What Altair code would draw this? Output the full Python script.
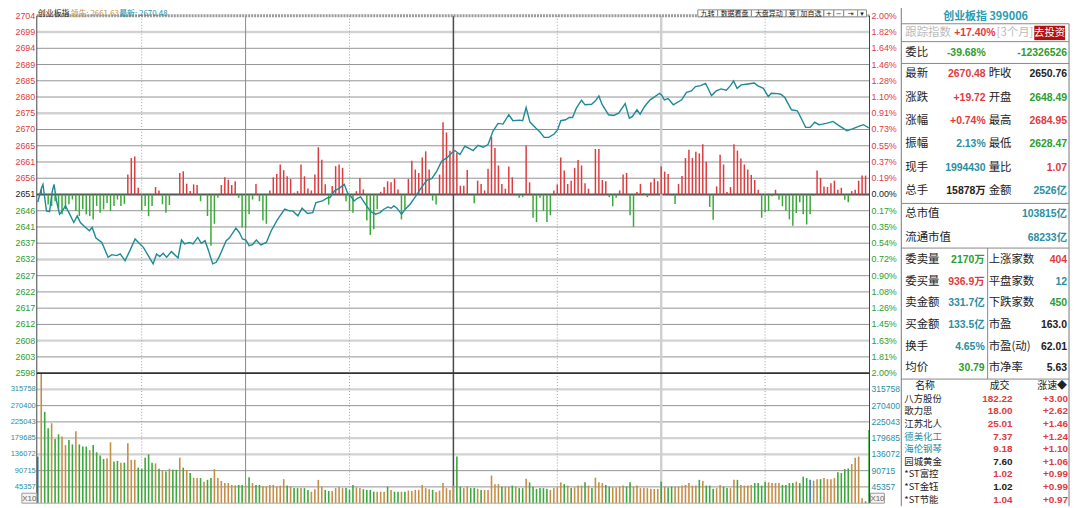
import pandas as pd
import altair as alt

OFF = 8  # page margin: screenshot pixel -> chart pixel

# ---------------- values ----------------
prev_close = 2650.76
price_lo, price_hi = 2597.74, 2703.78
price_labels = ["2704", "2699", "2694", "2689", "2685", "2680", "2675", "2670", "2665", "2661", "2656",
                "2651", "2646", "2641", "2637", "2632", "2627", "2622", "2617", "2612", "2608", "2603", "2598"]
pct_labels = ["2.00%", "1.82%", "1.64%", "1.46%", "1.28%", "1.10%", "0.91%", "0.73%", "0.55%", "0.37%", "0.19%",
              "0.00%", "0.17%", "0.35%", "0.54%", "0.72%", "0.90%", "1.08%", "1.26%", "1.45%", "1.63%", "1.81%", "2.00%"]
vol_top = 362.858  # thousand
vol_labels = ["45357", "90715", "136072", "179685", "225043", "270400", "315758"]

# minute line (minute index, price)
price_min = [0.0, 1.1, 1.5, 2.5, 3.4, 4.2, 4.7, 5.4, 6.3, 7.1, 8.0, 9.0, 10.4, 11.4, 12.3, 13.8, 14.9, 15.7,
             16.8, 18.5, 20.3, 21.4, 22.8, 23.8, 25.2, 26.6, 28.1, 29.5, 30.5, 31.9, 33.3, 34.3, 35.2, 36.2,
             37.2, 38.6, 39.5, 40.5, 41.5, 42.4, 43.8, 44.8, 46.2, 47.2, 48.3, 49.3, 50.5, 51.5, 52.4, 54.4,
             55.3, 57.2, 58.2, 59.1, 60.1, 61.0, 62.0, 63.1, 64.4, 66.0, 67.4, 69.3, 71.3, 72.7, 73.6, 75.1,
             76.3, 77.9, 79.4, 80.3, 82.2, 83.7, 84.4, 85.6, 87.0, 88.5, 89.4, 90.3, 91.3, 92.3, 93.2, 94.6,
             96.1, 97.5, 98.8, 99.9, 101.1, 102.0, 102.8, 103.7, 105.0, 106.1, 107.5, 109.0, 110.4, 112.3,
             113.8, 115.2, 116.6, 118.1, 119.5, 120.4, 121.9, 123.3, 124.7, 125.7, 127.1, 128.6, 130.0, 131.4,
             132.9, 134.3, 136.0, 137.2, 139.1, 140.0, 141.0, 142.1, 143.8, 145.0, 146.2, 147.5, 149.1, 150.1,
             151.0, 152.4, 153.4, 154.4, 155.5, 157.0, 158.0, 159.9, 161.0, 162.0, 162.9, 164.8, 166.3, 167.7,
             169.6, 170.8, 171.7, 173.0, 173.9, 175.2, 176.8, 178.2, 179.5, 180.1, 180.9, 182.0, 183.5, 185.9,
             187.3, 188.7, 189.9, 191.4, 192.8, 193.5, 194.5, 195.9, 197.3, 198.8, 200.0, 200.9, 201.9, 203.1,
             205.0, 206.9, 207.8, 209.5, 210.9, 211.8, 213.6, 214.5, 215.7, 217.6, 219.3, 220.3, 221.7, 223.0,
             224.3, 225.5, 226.5, 227.9, 229.6, 231.2, 232.7, 233.6, 235.4, 237.0, 238.4, 240.0]
price_val = [2648.49, 2652.77, 2653.77, 2645.89, 2645.69, 2651.79, 2653.77, 2648.84, 2644.92, 2645.89, 2647.37,
             2645.39, 2642.44, 2644.42, 2642.44, 2640.97, 2639.99, 2640.97, 2637.84, 2636.54, 2632.12, 2632.91,
             2632.62, 2633.12, 2631.14, 2634.09, 2637.54, 2636.07, 2635.07, 2632.62, 2630.17, 2633.12, 2632.32,
             2633.30, 2632.12, 2633.80, 2632.91, 2631.94, 2637.25, 2636.07, 2636.54, 2636.07, 2638.02, 2636.25,
             2637.04, 2634.09, 2630.17, 2630.64, 2632.32, 2637.04, 2637.84, 2640.79, 2639.49, 2637.54, 2637.25,
             2635.57, 2635.86, 2637.25, 2635.77, 2636.54, 2639.99, 2643.44, 2646.39, 2645.89, 2645.89, 2644.42,
             2646.69, 2645.10, 2645.39, 2648.34, 2648.84, 2649.82, 2649.82, 2651.79, 2652.59, 2653.77, 2651.29,
             2650.32, 2648.84, 2649.64, 2650.02, 2647.87, 2645.69, 2644.92, 2645.39, 2646.39, 2647.07, 2646.69,
             2647.37, 2646.69, 2644.92, 2646.39, 2647.87, 2650.02, 2652.29, 2654.95, 2655.54, 2657.69, 2660.64,
             2661.62, 2663.09, 2663.80, 2662.62, 2665.07, 2664.39, 2663.80, 2665.36, 2664.77, 2665.57, 2669.49,
             2671.85, 2671.65, 2674.42, 2672.65, 2672.83, 2672.65, 2676.57, 2672.24, 2670.47, 2669.29, 2667.72,
             2667.72, 2668.70, 2669.99, 2672.65, 2672.94, 2673.62, 2673.62, 2676.37, 2678.73, 2677.37, 2677.55,
             2678.55, 2680.02, 2677.55, 2674.42, 2674.21, 2674.89, 2677.75, 2673.42, 2673.92, 2675.89, 2674.60,
             2676.87, 2678.84, 2679.82, 2680.79, 2680.32, 2678.84, 2679.23, 2677.37, 2678.84, 2681.09, 2681.50,
             2682.77, 2683.06, 2683.74, 2682.27, 2680.11, 2681.50, 2682.09, 2681.68, 2683.06, 2684.45, 2682.27,
             2683.27, 2683.56, 2683.86, 2683.06, 2682.27, 2679.82, 2680.79, 2680.70, 2680.50, 2679.52, 2675.89,
             2675.60, 2673.62, 2670.67, 2670.67, 2672.24, 2671.47, 2671.65, 2671.94, 2672.44, 2671.26, 2670.29,
             2669.70, 2670.29, 2670.97, 2671.47, 2670.48]

# red / green strength bars around the previous close, one per minute
strength = [0, 1.5, 0, -3.0, -3.4, -2.0, -4.4, -5.9, -4.4, -2.9,
            -1.5, -4.9, -6.4, -4.4, -5.9, -6.4, -7.4, -3.4, -5.4, -4.4,
            -2.5, -4.9, -3.4, -1.5, -3.4, -2.8, 5.9, 10.8, 11.3, 2.0,
            -4.7, -3.4, -6.4, -3.4, 2.2, 1.2, -2.9, -5.4, -3.1, 0,
            0, 6.4, 6.9, 3.2, 1.0, 3.0, 2.8, -2.0, 0, -6.4,
            -15.2, -8.7, -1.0, 2.8, 5.1, 4.4, 2.8, 3.9, -1.0, -9.8,
            -9.8, -5.9, -1.5, 3.1, -2.0, -7.7, -8.7, 1.2, 5.1, 6.1,
            8.9, 7.2, 5.4, 4.6, 0.5, 1.0, 8.9, 5.4, 1.8, 1.2,
            5.9, 14.0, 10.3, 3.0, -3.0, 2.5, 8.4, 8.9, 7.9, -2.0,
            -4.9, -5.4, 1.0, 4.9, 1.5, -7.7, -12.0, -10.3, -4.4, 0.8,
            2.2, 3.9, 3.6, 4.7, 1.5, -7.4, -4.4, 4.6, 10.0, 7.4,
            6.4, 11.0, 12.8, 7.4, -1.8, -3.0, 5.9, 21.4, 18.4, 13.0,
            13.8, 12.3, 2.6, 2.6, 7.3, 0, -2.6, 4.1, 3.1, 1.2,
            7.6, 17.1, 13.8, 8.6, 3.1, 1.7, 8.3, 5.1, -0.3, -1.0,
            -0.8, 14.5, 3.6, -6.9, -8.2, -1.0, -4.9, -8.2, -6.2, 1.2,
            3.0, 11.0, 7.1, 3.1, 4.1, 7.9, 10.2, 8.6, 3.3, 1.7,
            0, 13.5, 13.5, 4.3, 3.9, -0.8, -3.5, -1.0, 1.2, 5.9,
            6.4, -6.2, -9.6, 0.7, 3.1, 0.4, -0.8, 3.6, 4.8, 3.9,
            8.3, 6.8, 6.1, -0.3, -2.8, 3.1, 5.5, 10.8, 13.3, 10.8,
            12.7, 12.2, 14.9, 9.7, -3.7, -7.5, 2.4, 11.8, 8.9, 0.7,
            2.2, 14.9, 13.0, 10.7, 8.9, 7.4, 5.8, 4.3, 1.4, -6.9,
            -5.2, -4.9, -0.5, 1.4, -1.6, -3.5, -4.9, -7.4, -9.3, -5.5,
            -2.3, -5.9, -8.9, -5.9, -0.4, 7.1, 4.9, 2.4, 2.2, 3.3,
            4.1, 1.4, 2.0, -1.6, -2.3, 1.0, 1.4, 4.1, 5.6, 5.6]

# volume per minute, thousand lots; u = up, d = down, f = flat
vol_k = [130, 362, 255, 209, 223, 179, 192, 186, 162, 176,
         164, 201, 164, 158, 158, 148, 162, 142, 133, 123,
         125, 170, 116, 118, 113, 113, 167, 121, 121, 99,
         96, 127, 136, 113, 111, 96, 91, 88, 96, 93,
         93, 127, 99, 93, 84, 71, 70, 70, 60, 65,
         70, 95, 70, 62, 56, 56, 51, 49, 51, 51,
         49, 72, 56, 51, 51, 48, 46, 51, 51, 46,
         49, 67, 49, 46, 42, 42, 42, 42, 37, 32,
         39, 65, 46, 37, 34, 34, 42, 45, 42, 42,
         37, 51, 44, 42, 39, 37, 37, 32, 32, 32,
         32, 46, 37, 32, 32, 32, 32, 35, 34, 37,
         37, 51, 42, 39, 37, 31, 35, 56, 42, 37,
         49, 130, 46, 42, 46, 42, 42, 40, 37, 37,
         37, 77, 53, 53, 46, 46, 46, 49, 46, 42,
         42, 68, 58, 46, 40, 42, 42, 40, 37, 42,
         44, 58, 53, 49, 42, 44, 49, 49, 58, 49,
         42, 71, 58, 56, 51, 46, 44, 44, 46, 49,
         46, 58, 46, 49, 42, 42, 42, 40, 40, 40,
         60, 46, 44, 46, 46, 46, 49, 51, 56, 49,
         49, 65, 62, 49, 49, 40, 42, 51, 46, 42,
         42, 65, 65, 51, 49, 49, 51, 56, 56, 49,
         60, 58, 56, 56, 56, 51, 51, 56, 56, 60,
         56, 74, 70, 65, 63, 67, 67, 70, 67, 67,
         70, 86, 84, 95, 97, 109, 127, 130, 14, 5,
         204]
vol_state = ("fuddudduud" "dudddudddd" "uudduduuud" "ddddududud" "dududuudud"
             "duuuuuuudd" "ududduuuuu" "uududduddu" "uuudduuuud" "dduudddduu"
             "ududduduuu" "uuuuduuuuu" "udduuddudu" "uuuuduudud" "dudddddduu"
             "uududuuudu" "duuudduuuu" "dduuuuuuuu" "dudduuuuuu" "ududdduudd"
             "uuduuuuddd" "duuuuddddu" "dddfuuduuu" "udddduuuuf" "d")

# right-hand quote panel
panel_title = "创业板指 399006"
track_row = ["跟踪指数", "+17.40%", "[3个月]", "去投资"]
weibi_row = ["委比", "-39.68%", "-12326526"]
quote_l = ["最新", "涨跌", "涨幅", "振幅", "现手", "总手"]
quote_lv = ["2670.48", "+19.72", "+0.74%", "2.13%", "1994430", "15878万"]
quote_r = ["昨收", "开盘", "最高", "最低", "量比", "金额"]
quote_rv = ["2650.76", "2648.49", "2684.95", "2628.47", "1.07", "2526亿"]
cap_l = ["总市值", "流通市值"]
cap_v = ["103815亿", "68233亿"]
book_l = ["委卖量", "委买量", "卖金额", "买金额", "换手", "均价"]
book_lv = ["2170万", "936.9万", "331.7亿", "133.5亿", "4.65%", "30.79"]
book_r = ["上涨家数", "平盘家数", "下跌家数", "市盈", "市盈(动)", "市净率"]
book_rv = ["404", "12", "450", "163.0", "62.01", "5.63"]
list_head = ["名称", "成交", "涨速◆"]
stock_names = ["八方股份", "歌力思", "江苏北人", "德美化工", "海伦钢琴", "园城黄金", "*ST富控", "*ST金钰", "*ST节能"]
stock_price = ["182.22", "18.00", "25.01", "7.37", "9.18", "7.60", "1.02", "1.02", "1.04"]
stock_speed = ["+3.00", "+2.62", "+1.46", "+1.24", "+1.10", "+1.06", "+0.99", "+0.99", "+0.97"]
tool_labels = ["九转", "数据看盘", "大盘异动", "竞", "加自选", "+", "−", "⇥", "▾"]

# ---------------- colours / layout ----------------
RED, GREEN, TEAL, BLACK, TAN = "#df3b3f", "#2e9e2e", "#2a8fa3", "#222222", "#c68d45"
CJK = "Noto Sans CJK SC"
NUM = "Liberation Sans, Noto Sans CJK SC"

X0, X1 = 37 - OFF, 876 - OFF      # plot left / right
PY0, PY1 = 14 - OFF, 374 - OFF    # price panel
VY1 = 505 - OFF                   # volume panel bottom

xs = alt.Scale(domain=[0, 240], range=[X0 + 1, X1 - 0.5], nice=False, zero=False)
yp = alt.Scale(domain=[price_lo, price_hi], range=[PY1, PY0], nice=False, zero=False)
yv = alt.Scale(domain=[0, vol_top], range=[VY1, PY1], nice=False, zero=False)


def px(v):
    return alt.X(v, scale=None, axis=None)


def py(v):
    return alt.Y(v, scale=None, axis=None)


def texts(rows, align, font, size, weight="normal"):
    df = pd.DataFrame(rows, columns=["t", "x", "y", "c"])
    df["x"] = df["x"] - OFF
    df["y"] = df["y"] - OFF
    return alt.Chart(df).mark_text(align=align, baseline="middle", font=font, fontSize=size,
                                   fontWeight=weight).encode(
        x=px("x:Q"), y=py("y:Q"), text="t:N", color=alt.Color("c:N", scale=None))


def segs(rows, dash=None):
    df = pd.DataFrame(rows, columns=["x", "y", "x2", "y2", "c", "w"])
    df[["x", "x2", "y", "y2"]] = df[["x", "x2", "y", "y2"]] - OFF
    mark = alt.Chart(df).mark_rule(strokeDash=dash) if dash else alt.Chart(df).mark_rule()
    return mark.encode(x=px("x:Q"), x2="x2:Q", y=py("y:Q"), y2="y2:Q",
                       color=alt.Color("c:N", scale=None), strokeWidth=alt.StrokeWidth("w:Q", scale=None))


layers = []

# ---- horizontal grid of the price panel ----
step = (price_hi - price_lo) / (len(price_labels) - 1)
ticks = pd.DataFrame({"p": [price_hi - i * step for i in range(len(price_labels))],
                      "lab": price_labels, "pct": pct_labels, "i": range(len(price_labels))})
light_rows, base_row = [1, 6, 15, 20], 11
ticks["c"] = ["#555555" if i == base_row else "#d2d2d2" if i in light_rows else "#939393" for i in ticks.i]
ticks["w"] = [2 if i == base_row else 2.4 if i in light_rows else 1 for i in ticks.i]
ticks["tc"] = [BLACK if i == base_row else RED if i < base_row else GREEN for i in ticks.i]
grid = ticks[(ticks.i > 0) & (ticks.i < len(price_labels) - 1)]
layers.append(alt.Chart(grid).mark_rule().encode(
    x=alt.value(X0), x2=alt.value(X1), y=alt.Y("p:Q", scale=yp, axis=None),
    color=alt.Color("c:N", scale=None), strokeWidth=alt.StrokeWidth("w:Q", scale=None)))

# ---- horizontal grid of the volume panel ----
vstep = vol_top / 8
vt = pd.DataFrame({"v": [vstep * (k + 1) for k in range(len(vol_labels))], "lab": vol_labels,
                   "k": range(1, len(vol_labels) + 1)})
vt["c"] = ["#d2d2d2" if k in (3, 4, 7) else "#939393" for k in vt.k]
vt["w"] = [2.4 if k in (3, 4, 7) else 1 for k in vt.k]
layers.append(alt.Chart(vt).mark_rule().encode(
    x=alt.value(X0), x2=alt.value(X1), y=alt.Y("v:Q", scale=yv, axis=None),
    color=alt.Color("c:N", scale=None), strokeWidth=alt.StrokeWidth("w:Q", scale=None)))

# ---- vertical half-hour lines ----
vsolid = pd.DataFrame({"m": [60, 120, 180], "c": ["#8a8a8a", "#4a4a4a", "#cfcfcf"], "w": [1, 1.5, 2.4]})
layers.append(alt.Chart(vsolid).mark_rule().encode(
    x=alt.X("m:Q", scale=xs, axis=None), y=alt.value(PY0), y2=alt.value(VY1),
    color=alt.Color("c:N", scale=None), strokeWidth=alt.StrokeWidth("w:Q", scale=None)))
layers.append(alt.Chart(pd.DataFrame({"m": [30, 90, 150, 210]})).mark_rule(
    color="#a0a0a0", strokeWidth=1, strokeDash=[1, 2]).encode(
    x=alt.X("m:Q", scale=xs, axis=None), y=alt.value(PY0), y2=alt.value(VY1)))

# ---- red / green strength bars ----
sb = pd.DataFrame({"m": range(len(strength)), "v": strength})
sb = sb[sb.v != 0].copy()
sb["base"] = prev_close
sb["top"] = prev_close + sb.v
sb["side"] = ["up" if v > 0 else "down" for v in sb.v]
layers.append(alt.Chart(sb).mark_rule(strokeWidth=1.5).encode(
    x=alt.X("m:Q", scale=xs, axis=None), y=alt.Y("base:Q", scale=yp, axis=None), y2="top:Q",
    color=alt.Color("side:N", scale=alt.Scale(domain=["up", "down"], range=[RED, "#3aa83a"]), legend=None)))

# ---- volume bars ----
vb = pd.DataFrame({"m": range(len(vol_k)), "v": vol_k, "s": list(vol_state)})
vb["z"] = 0
layers.append(alt.Chart(vb).mark_rule(strokeWidth=1.6).encode(
    x=alt.X("m:Q", scale=xs, axis=None), y=alt.Y("z:Q", scale=yv, axis=None), y2="v:Q",
    color=alt.Color("s:N", scale=alt.Scale(domain=["u", "d", "f"], range=[TAN, "#3aa83a", "#2b86a8"]),
                    legend=None)))

# ---- minute price line ----
layers.append(alt.Chart(pd.DataFrame({"m": price_min, "p": price_val})).mark_line(
    color="#1d8a97", strokeWidth=1.4).encode(
    x=alt.X("m:Q", scale=xs, axis=None), y=alt.Y("p:Q", scale=yp, axis=None)))

# ---- frame ----
layers.append(segs([(37, 14, 876, 14, "#9a9a9a", 3)], dash=[2, 1]))
layers.append(segs([
    (37, 14, 37, 505, "#444444", 1), (876, 14, 876, 505, "#444444", 1),
    (37, 374, 876, 374, "#333333", 1.6), (37, 505, 876, 505, "#aaaaaa", 1),
    (908, 0, 908, 508, "#777777", 1), (1077, 22, 1077, 508, "#777777", 1),
    (908, 22, 1077, 22, "#888888", 1), (908, 40, 1077, 40, "#888888", 1),
    (908, 62, 1077, 62, "#888888", 1), (908, 203, 1077, 203, "#888888", 1),
    (908, 248, 1077, 248, "#888888", 1), (908, 380, 1077, 380, "#888888", 1),
    (995, 248, 995, 380, "#888888", 1),
]))

# ---- axis labels (through the scales) ----
def axis_text(df, field, scale, x, align, size, colour_field=None, colour=None):
    enc = dict(x=alt.value(x), y=alt.Y(field, scale=scale, axis=None), text="lab:N")
    enc["color"] = alt.Color(colour_field, scale=None) if colour_field else alt.value(colour)
    return alt.Chart(df).mark_text(align=align, baseline="middle", font="Liberation Sans",
                                   fontSize=size).encode(**enc)


layers.append(axis_text(ticks, "p:Q", yp, X0 - 1.5, "right", 9, "tc:N"))
pt = ticks.drop(columns=["lab"]).rename(columns={"pct": "lab"})
layers.append(axis_text(pt, "p:Q", yp, X1 + 2, "left", 9, "tc:N"))
layers.append(axis_text(vt, "v:Q", yv, X0 - 1, "right", 7.6, colour=TEAL))
layers.append(axis_text(vt, "v:Q", yv, X1 + 2, "left", 8.6, colour=TEAL))

# X10 boxes
boxes = pd.DataFrame({"x": [22 - OFF, 877 - OFF], "x2": [37 - OFF, 891 - OFF],
                      "y": [495 - OFF] * 2, "y2": [505 - OFF] * 2})
layers.append(alt.Chart(boxes).mark_rect(fill="#f4f4f4", stroke="#9a9a9a", strokeWidth=1).encode(
    x=px("x:Q"), x2="x2:Q", y=py("y:Q"), y2="y2:Q"))
layers.append(texts([("X10", 29.5, 500.5, "#666666"), ("X10", 884, 500.5, "#666666")],
                    "center", "Liberation Sans", 8))

# ---- header line and toolbar ----
layers.append(texts([("创业板指", 38, 12.5, BLACK), ("领先: 2661.63", 71, 12.5, "#c8913f"),
                     ("最新: 2670.48", 120, 12.5, TEAL)], "left", CJK, 8))
edges = [703, 723, 757, 792, 804, 830, 840, 850, 864, 873]
tb = pd.DataFrame({"x": [e - OFF for e in edges[:-1]], "x2": [e - OFF for e in edges[1:]],
                   "y": [8 - OFF] * len(tool_labels), "y2": [15 - OFF] * len(tool_labels)})
layers.append(alt.Chart(tb).mark_rect(fill="#ffffff", stroke="#8a8a8a", strokeWidth=1).encode(
    x=px("x:Q"), x2="x2:Q", y=py("y:Q"), y2="y2:Q"))
layers.append(texts([(t, (edges[i] + edges[i + 1]) / 2, 12, BLACK) for i, t in enumerate(tool_labels)],
                    "center", "DejaVu Sans, Noto Sans CJK SC", 7))

# ---- quote panel ----
layers.append(texts([(panel_title, 993, 15.5, "#2a9cb0")], "center", CJK, 11, "bold"))
btn = pd.DataFrame({"x": [1042 - OFF], "x2": [1073 - OFF], "y": [24 - OFF], "y2": [38.5 - OFF]})
layers.append(alt.Chart(btn).mark_rect(fill="#b3100f").encode(
    x=px("x:Q"), x2="x2:Q", y=py("y:Q"), y2="y2:Q"))

row_y = [73 + i * 23.5 for i in range(6)]
book_y = [260 + i * 21.8 for i in range(6)]
list_y = [400 + i * 12.67 for i in range(9)]

lab_rows = [(track_row[0], 912, 31, "#bbbbbb"), (track_row[2], 1004, 31, "#bbbbbb"),
            (weibi_row[0], 912, 51, BLACK)]
lab_rows += [(t, 912, y, BLACK) for t, y in zip(quote_l, row_y)]
lab_rows += [(t, 996, y, BLACK) for t, y in zip(quote_r, row_y)]
lab_rows += [(t, 912, y, BLACK) for t, y in zip(cap_l, [214, 238])]
lab_rows += [(t, 912, y, BLACK) for t, y in zip(book_l, book_y)]
lab_rows += [(t, 996, y, BLACK) for t, y in zip(book_r, book_y)]
layers.append(texts(lab_rows, "left", CJK, 11.5))
layers.append(texts([(track_row[3], 1057.5, 31, "#ffffff")], "center", CJK, 10.5))

lv_col = [RED, RED, RED, TEAL, TEAL, BLACK]
rv_col = [BLACK, GREEN, RED, GREEN, RED, TEAL]
blv_col = [GREEN, RED, TEAL, TEAL, TEAL, GREEN]
brv_col = [RED, TEAL, GREEN, BLACK, BLACK, BLACK]
val_rows = [(track_row[1], 1003, 31, RED), (weibi_row[1], 993, 51, GREEN), (weibi_row[2], 1075, 51, GREEN)]
val_rows += [(t, 993, y, c) for t, y, c in zip(quote_lv, row_y, lv_col)]
val_rows += [(t, 1075, y, c) for t, y, c in zip(quote_rv, row_y, rv_col)]
val_rows += [(t, 1075, y, TEAL) for t, y in zip(cap_v, [214, 238])]
val_rows += [(t, 992, y, c) for t, y, c in zip(book_lv, book_y, blv_col)]
val_rows += [(t, 1075, y, c) for t, y, c in zip(book_rv, book_y, brv_col)]
layers.append(texts(val_rows, "right", NUM, 10.5, "bold"))

layers.append(texts([(list_head[0], 932, 387, BLACK), (list_head[1], 1007, 387, BLACK),
                     (list_head[2], 1060, 387, BLACK)], "center", CJK, 10))
name_col = [BLACK, BLACK, BLACK, TEAL, TEAL, BLACK, BLACK, BLACK, BLACK]
price_col = [RED, RED, RED, RED, RED, BLACK, RED, BLACK, RED]
layers.append(texts([(t, 911, y, c) for t, y, c in zip(stock_names, list_y, name_col)], "left", CJK, 9.5))
layers.append(texts([(t, 1020, y, c) for t, y, c in zip(stock_price, list_y, price_col)]
                    + [(t, 1076, y, RED) for t, y in zip(stock_speed, list_y)], "right", NUM, 10, "bold"))

chart = alt.layer(*layers).resolve_scale(x="independent", y="independent", color="independent").properties(
    width=1072, height=500, padding=0, autosize=alt.AutoSizeParams(type="none"), background="#ffffff"
).configure_view(stroke=None)

chart.save("out.html", embed_options={"renderer": "svg", "actions": False})
